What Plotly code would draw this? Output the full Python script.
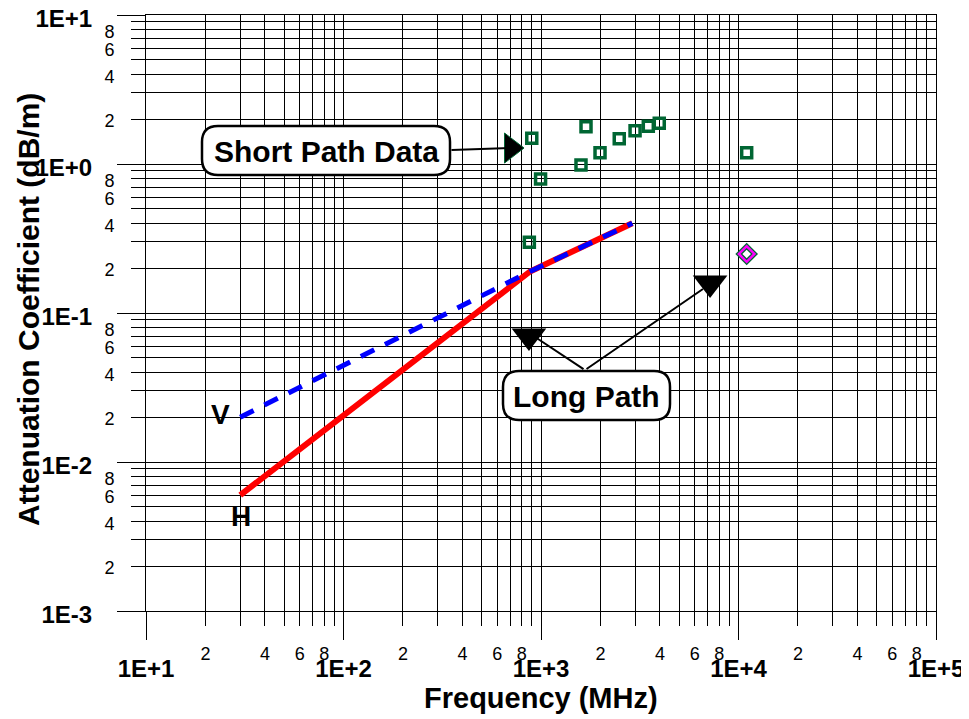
import math
import plotly.graph_objects as go

# ---------------- data ----------------
freq_H = [30, 880, 2900]
att_H = [0.006, 0.19, 0.40]

freq_V = [30, 880, 2900]
att_V = [0.02, 0.19, 0.40]

short_freq = [898, 1690, 995, 1990, 1594, 2490, 2994, 3494, 3970, 11000, 873]
short_att = [1.49, 1.78, 0.793, 1.19, 0.985, 1.48, 1.67, 1.79, 1.88, 1.19, 0.298]

long_freq = [11000]
long_att = [0.249]

x_major = [10, 100, 1000, 10000, 100000]
x_major_text = ["1E+1", "1E+2", "1E+3", "1E+4", "1E+5"]
y_major = [0.001, 0.01, 0.1, 1, 10]
y_major_text = ["1E-3", "1E-2", "1E-1", "1E+0", "1E+1"]
minor_mult = [2, 3, 4, 5, 6, 7, 8, 9]
label_mult = [2, 4, 6, 8]

# annotation pointer markers (data coords)
tri_right_pt = (705, 1.28)
tri_down_pts = [(869, 0.070), (7180, 0.159)]
short_line = ((346, 1.24), (705, 1.28))
long_lines = [((1671, 0.0414), (933, 0.069)), ((1671, 0.0414), (6607, 0.145))]
label_V = (23.7, 0.0207)
label_H = (30.3, 0.00428)

# ---------------- helpers ----------------
x_minor = [m * d for d in [10, 100, 1000, 10000] for m in minor_mult]
y_minor = [m * d for d in [0.001, 0.01, 0.1, 1] for m in minor_mult]
x_lab = [m * d for d in [10, 100, 1000, 10000] for m in label_mult]
y_lab = [m * d for d in [0.001, 0.01, 0.1, 1] for m in label_mult]
lab_text = [str(m) for d in range(4) for m in label_mult]

OFF = 8  # default body margin of the page
W, H = 969 - OFF, 719 - OFF
L, R, T, B = 146, 936, 15, 611  # plot area in page pixels


def PX(p):
    return (p - L) / (R - L)


def PY(p):
    return (B - p) / (B - T)


def rounded(x0, y0, x1, y1, r):
    return (f"M {PX(x0+r)},{PY(y0)} L {PX(x1-r)},{PY(y0)} Q {PX(x1)},{PY(y0)} {PX(x1)},{PY(y0+r)} "
            f"L {PX(x1)},{PY(y1-r)} Q {PX(x1)},{PY(y1)} {PX(x1-r)},{PY(y1)} "
            f"L {PX(x0+r)},{PY(y1)} Q {PX(x0)},{PY(y1)} {PX(x0)},{PY(y1-r)} "
            f"L {PX(x0)},{PY(y0+r)} Q {PX(x0)},{PY(y0)} {PX(x0+r)},{PY(y0)} Z")


FONT = "Liberation Sans, Arial, sans-serif"
GREEN = "#006633"

fig = go.Figure()
fig.add_trace(go.Scatter(x=freq_H, y=att_H, mode="lines",
                         line=dict(color="#ff0000", width=6), showlegend=False))
fig.add_trace(go.Scatter(x=freq_V, y=att_V, mode="lines",
                         line=dict(color="#0000ff", width=5, dash="15px,12px"), showlegend=False))
fig.add_trace(go.Scatter(x=short_freq, y=short_att, mode="markers",
                         marker=dict(symbol="square-open", size=10, color=GREEN,
                                     line=dict(color=GREEN, width=3.5)), showlegend=False))
fig.add_trace(go.Scatter(x=long_freq, y=long_att, mode="markers",
                         marker=dict(symbol="diamond-open", size=12, color=GREEN,
                                     line=dict(color=GREEN, width=5)), showlegend=False))
fig.add_trace(go.Scatter(x=long_freq, y=long_att, mode="markers",
                         marker=dict(symbol="diamond-open", size=12, color="#ff00ff",
                                     line=dict(color="#ff00ff", width=2.5)), showlegend=False))
fig.add_trace(go.Scatter(x=[tri_right_pt[0]], y=[tri_right_pt[1]], mode="markers",
                         marker=dict(symbol="triangle-right", size=26, color="black",
                                     line=dict(color=GREEN, width=1)), showlegend=False))
fig.add_trace(go.Scatter(x=[p[0] for p in tri_down_pts], y=[p[1] for p in tri_down_pts],
                         mode="markers",
                         marker=dict(symbol="triangle-down", size=30, color="black"),
                         showlegend=False))
# empty traces that register the overlay label axes
fig.add_trace(go.Scatter(x=[], y=[], xaxis="x2", yaxis="y", showlegend=False, hoverinfo="skip"))
fig.add_trace(go.Scatter(x=[], y=[], xaxis="x", yaxis="y2", showlegend=False, hoverinfo="skip"))

axis_common = dict(type="log", showline=True, mirror=True, linecolor="black", linewidth=1,
                   showgrid=True, gridcolor="black", gridwidth=1, automargin=False,
                   ticks="outside", ticklen=28, tickcolor="black", tickwidth=1,
                   zeroline=False, ticklabeloverflow="allow",
                   tickfont=dict(family=FONT, size=24, color="black", weight="bold"))

fig.update_layout(
    width=W, height=H,
    margin=dict(l=L - OFF, r=W - (R - OFF), t=T - OFF, b=H - (B - OFF)),
    paper_bgcolor="white", plot_bgcolor="white",
    xaxis=dict(**axis_common, range=[1, 5], tickmode="array", tickvals=x_major,
               ticktext=x_major_text, ticklabelstandoff=8,
               minor=dict(tickmode="array", tickvals=x_minor, showgrid=True, gridcolor="black",
                          gridwidth=1, ticks="outside", ticklen=14, tickcolor="black")),
    yaxis=dict(**axis_common, range=[-3, 1], tickmode="array", tickvals=y_major,
               ticktext=y_major_text, ticklabelstandoff=20, ticklabelshift=4,
               minor=dict(tickmode="array", tickvals=y_minor, showgrid=True, gridcolor="black",
                          gridwidth=1, ticks="outside", ticklen=14, tickcolor="black")),
    xaxis2=dict(type="log", range=[1, 5], overlaying="x", anchor="y", side="bottom",
                showgrid=False, showline=False, zeroline=False, automargin=False,
                ticklabeloverflow="allow",
                tickmode="array", tickvals=x_lab, ticktext=lab_text, ticklabelstandoff=12,
                ticks="outside", ticklen=14, tickcolor="rgba(0,0,0,0)",
                tickfont=dict(family=FONT, size=18, color="black")),
    yaxis2=dict(type="log", range=[-3, 1], overlaying="y", anchor="x", side="left",
                showgrid=False, showline=False, zeroline=False, automargin=False,
                ticklabeloverflow="allow",
                tickmode="array", tickvals=y_lab, ticktext=lab_text, ticklabelstandoff=13,
                ticklabelshift=2,
                ticks="outside", ticklen=14, tickcolor="rgba(0,0,0,0)",
                tickfont=dict(family=FONT, size=18, color="black")),
)

# axis titles
fig.add_annotation(x=PX(541), y=PY(698), xref="paper", yref="paper", text="Frequency (MHz)",
                   xanchor="center", yanchor="middle", showarrow=False,
                   font=dict(family=FONT, size=29, color="black", weight="bold"))
fig.add_annotation(x=PX(28), y=PY(310), xref="paper", yref="paper",
                   text="Attenuation Coefficient (dB/m)", textangle=-90,
                   xanchor="center", yanchor="middle", showarrow=False,
                   font=dict(family=FONT, size=30, color="black", weight="bold"))

# rounded callout boxes
fig.add_shape(type="path", xref="paper", yref="paper", path=rounded(202, 126, 450, 175, 16),
              fillcolor="white", line=dict(color="black", width=2.5), layer="above")
fig.add_shape(type="path", xref="paper", yref="paper", path=rounded(503, 371, 670, 420, 16),
              fillcolor="white", line=dict(color="black", width=2.5), layer="above")

fig.add_annotation(x=PX(326), y=PY(151), xref="paper", yref="paper", text="Short Path Data",
                   xanchor="center", yanchor="middle",
                   showarrow=False, font=dict(family=FONT, size=30, color="black", weight="bold"))
fig.add_annotation(x=PX(586), y=PY(396), xref="paper", yref="paper", text="Long Path",
                   xanchor="center", yanchor="middle",
                   showarrow=False, font=dict(family=FONT, size=30, color="black", weight="bold"))

# connector lines
for (a, b) in [short_line] + long_lines:
    fig.add_annotation(x=math.log10(b[0]), y=math.log10(b[1]), xref="x", yref="y",
                       ax=math.log10(a[0]), ay=math.log10(a[1]), axref="x", ayref="y",
                       text="", showarrow=True, arrowhead=0, arrowwidth=2, arrowcolor="black",
                       standoff=0, startstandoff=0)

# curve labels
for txt, pt in [("V", label_V), ("H", label_H)]:
    fig.add_annotation(x=math.log10(pt[0]), y=math.log10(pt[1]), xref="x", yref="y", text=txt,
                       showarrow=False, font=dict(family=FONT, size=28, color="black", weight="bold"))

fig.write_html("out.html")
